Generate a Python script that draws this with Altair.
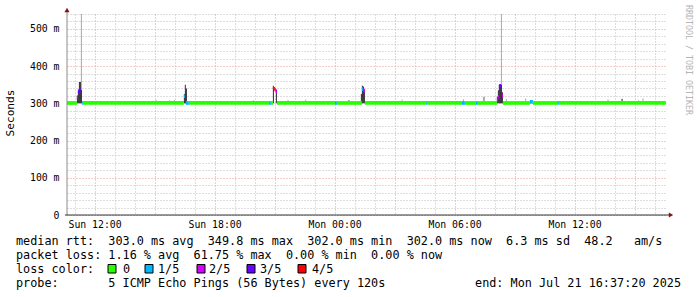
import altair as alt
import pandas as pd

# ---------------- data ----------------
DAY = {"Sun": "2025-07-20", "Mon": "2025-07-21"}
range_start = "Sun 10:37:20"
range_end = "Mon 16:37:20"

# median band runs (loss = pings lost out of 5)
run_start = ["Sun 10:37:20", "Sun 11:22", "Sun 11:25", "Sun 16:34", "Sun 16:43", "Sun 20:43",
             "Sun 20:49", "Sun 21:07", "Mon 00:01", "Mon 00:07", "Mon 01:31", "Mon 04:34",
             "Mon 04:37", "Mon 06:22", "Mon 06:31", "Mon 07:03", "Mon 07:10", "Mon 08:25",
             "Mon 09:46", "Mon 09:55", "Mon 11:08", "Mon 11:13"]
run_end = ["Sun 11:07", "Sun 11:25", "Sun 16:28", "Sun 16:43", "Sun 20:43", "Sun 20:49",
           "Sun 20:55", "Mon 00:01", "Mon 00:07", "Mon 01:22", "Mon 04:34", "Mon 04:37",
           "Mon 06:22", "Mon 06:31", "Mon 07:03", "Mon 07:10", "Mon 08:07", "Mon 09:46",
           "Mon 09:55", "Mon 11:08", "Mon 11:13", "Mon 16:34"]
run_loss = [0, 1, 0, 1, 0, 1, 0, 0, 1, 0, 0, 1, 0, 1, 0, 1, 0, 0, 1, 0, 1, 0]
run_median = [302, 302, 302, 302, 302, 302, 302, 302, 302, 302, 302, 302, 302, 302, 302,
              302, 302, 302, 305, 302, 302, 302]

# single 3-minute median samples during the latency spikes
samp_time = ["Sun 11:07", "Sun 11:10", "Sun 11:13", "Sun 11:16",
             "Sun 16:28", "Sun 16:31",
             "Sun 20:55", "Sun 20:58", "Sun 21:01", "Sun 21:04",
             "Mon 01:22", "Mon 01:25", "Mon 01:28",
             "Mon 08:07", "Mon 08:10", "Mon 08:13", "Mon 08:16", "Mon 08:19", "Mon 08:22"]
samp_median = [318, 333, 336, 336, 320, 345, 343, 340, 337, 334, 339, 337, 335,
               309, 318, 345, 348, 336, 322]
samp_loss = [2, 3, 3, 3, 1, 2, 4, 4, 2, 2, 1, 2, 2, 2, 2, 3, 3, 3, 2]

# smoke (spread of the individual pings); tone 0 = light, 1 = dark
smoke_time = ["Sun 11:07", "Sun 11:10", "Sun 11:13", "Sun 11:16", "Sun 11:19", "Sun 11:19",
              "Sun 15:03", "Sun 15:44", "Sun 15:58",
              "Sun 16:28", "Sun 16:31", "Sun 16:34",
              "Sun 19:55", "Sun 20:55", "Sun 21:04", "Sun 21:39", "Sun 22:32",
              "Mon 00:40", "Mon 00:43", "Mon 01:19", "Mon 01:22", "Mon 01:25", "Mon 01:28",
              "Mon 03:21", "Mon 06:25", "Mon 07:25", "Mon 07:28",
              "Mon 08:07", "Mon 08:10", "Mon 08:13", "Mon 08:16", "Mon 08:19", "Mon 08:19",
              "Mon 08:22", "Mon 08:34", "Mon 09:32", "Mon 13:39", "Mon 14:21", "Mon 15:11",
              "Mon 15:24"]
smoke_lo = [300] * len(smoke_time)
smoke_hi = [320, 334, 357, 357, 545, 336,
            309, 308, 309,
            325, 350, 340,
            308, 345, 336, 309, 310,
            309, 309, 325, 347, 345, 336,
            310, 311, 318, 318,
            318, 335, 351, 351, 545, 350,
            330, 311, 313, 310, 312, 308,
            313]
smoke_tone = [1, 1, 1, 1, 0, 1,
              0, 0, 0,
              1, 1, 1,
              0, 1, 1, 0, 0,
              0, 0, 1, 1, 1, 1,
              0, 0, 0, 0,
              1, 1, 1, 1, 0, 1,
              1, 0, 0, 0, 1, 0,
              0]

loss_labels = ["0", "1/5", "2/5", "3/5", "4/5"]
loss_colors = ["#26ff00", "#00b8ff", "#d400ff", "#6a00ff", "#ff0000"]

y_ticks = list(range(0, 541, 20))

legend_rtt = "median rtt:  303.0 ms avg  349.8 ms max  302.0 ms min  302.0 ms now  6.3 ms sd  48.2   am/s"
legend_loss = "packet loss: 1.16 % avg  61.75 % max  0.00 % min  0.00 % now"
legend_color_title = "loss color:"
legend_probe = "probe:       5 ICMP Echo Pings (56 Bytes) every 120s"
legend_end = "end: Mon Jul 21 16:37:20 2025"
credit = "RRDTOOL / TOBI OETIKER"
y_title = "Seconds"


# ---------------- helpers ----------------
def iso(s):
    d, hm = s.split()
    if hm.count(":") == 1:
        hm += ":00"
    return f"{DAY[d]}T{hm}Z"


def step_after(s):
    return (pd.Timestamp(iso(s)) + pd.Timedelta(minutes=3)).strftime("%Y-%m-%dT%H:%M:%SZ")


def ms(s):
    return int(pd.Timestamp(iso(s)).timestamp() * 1000)


def nb(s):
    return s.replace(" ", "\u00a0")


band_df = pd.DataFrame({
    "t": [iso(s) for s in run_start] + [iso(s) for s in samp_time],
    "t2": [iso(s) for s in run_end] + [step_after(s) for s in samp_time],
    "loss": run_loss + samp_loss,
    "median": run_median + samp_median,
})
smoke_df = pd.DataFrame({
    "t": [iso(s) for s in smoke_time],
    "t2": [step_after(s) for s in smoke_time],
    "lo": smoke_lo,
    "hi": smoke_hi,
    "tone": smoke_tone,
})

hours = pd.date_range("2025-07-20T11:00Z", "2025-07-21T16:00Z", freq="h")
hour_ms = [int(h.timestamp() * 1000) for h in hours]

MONO = "DejaVu Sans Mono"
GRID = "#bdbdbd"
MGRID = "#e49a9a"
ARROW = "#8a1010"
W, H = 600, 201
LEFT, TOP = 67, 14

x_scale = alt.Scale(type="utc", domain=[ms(range_start), ms(range_end)])
y_scale = alt.Scale(domain=[0, 540], nice=False, zero=True)

x_axis = alt.Axis(
    values=hour_ms,
    labelExpr="utchours(datum.value) % 6 == 0 ? utcFormat(datum.value, '%a %H:%M') : ''",
    grid=True,
    gridColor=alt.condition("utchours(datum.value) % 3 == 0", alt.value(MGRID), alt.value(GRID)),
    gridDash=[1, 2],
    gridWidth=1,
    ticks=False,
    domain=False,
    labelFont=MONO,
    labelFontSize=9.8,
    labelColor="#000000",
    labelPadding=4,
    labelOverlap=False,
    labelFlush=False,
    title=None,
)
y_axis = alt.Axis(
    values=y_ticks,
    labelExpr="datum.value % 100 == 0 ? (datum.value == 0 ? '0\u00a0\u00a0' : datum.value + ' m') : ''",
    grid=True,
    gridColor=alt.condition("datum.value % 100 == 0", alt.value(MGRID), alt.value(GRID)),
    gridDash=[1, 2],
    gridWidth=1,
    ticks=False,
    domain=False,
    labelFont=MONO,
    labelFontSize=9.8,
    labelColor="#000000",
    labelPadding=8,
    labelOverlap=False,
    title=None,
)


def xy(lo="lo", hi="hi"):
    return dict(
        x=alt.X("t:T", scale=x_scale, axis=x_axis),
        x2="t2:T",
        y=alt.Y(f"{lo}:Q", scale=y_scale, axis=y_axis),
        y2=f"{hi}:Q",
    )


smoke_light = alt.Chart(smoke_df).transform_filter("datum.tone == 0").mark_rect(
    clip=True, color="#a8a8a8").encode(**xy())
smoke_dark = alt.Chart(smoke_df).transform_filter("datum.tone == 1").mark_rect(
    clip=True, color="#2a2a2a").encode(**xy())
band = alt.Chart(band_df).transform_calculate(
    lo="datum.median - 6", hi="datum.median + 4").mark_rect(clip=True).encode(
    color=alt.Color("loss:O", scale=alt.Scale(domain=[0, 1, 2, 3, 4], range=loss_colors), legend=None),
    **xy(),
)

y_line = alt.Chart().mark_rule(color="#8c8c8c", strokeWidth=1).encode(
    x=alt.value(0), y=alt.value(-4), y2=alt.value(H))
x_line = alt.Chart().mark_rule(color="#333333", strokeWidth=1).encode(
    x=alt.value(-2), x2=alt.value(W + 3), y=alt.value(H))
arrow_up = alt.Chart().mark_point(shape="triangle-up", filled=True, size=26, color=ARROW, opacity=1).encode(
    x=alt.value(0), y=alt.value(-4))
arrow_right = alt.Chart().mark_point(shape="triangle-right", filled=True, size=26, color=ARROW, opacity=1).encode(
    x=alt.value(W + 4), y=alt.value(H))

texts = []


def txt(s, x, y, size=11.8, align="left", angle=0, color="#000000", baseline="alphabetic"):
    kw = dict(font=MONO, fontSize=size, align=align, baseline=baseline, color=color)
    if angle:
        kw["angle"] = angle
    return alt.Chart().mark_text(**kw).encode(
        x=alt.value(x - LEFT), y=alt.value(y - TOP), text=alt.value(nb(s)))


texts.append(txt(legend_rtt, 16, 245))
texts.append(txt(legend_loss, 16, 259))
texts.append(txt(legend_color_title, 16, 273))
texts.append(txt(legend_probe, 16, 287))
texts.append(txt(legend_end, 681, 287, align="right"))
texts.append(txt(y_title, 11, 113, size=11.1, align="center", angle=270, baseline="middle"))
texts.append(txt(credit, 688, 60, size=8.3, align="center", angle=90, color="#b4b4b4", baseline="middle"))

square_x = [108, 145, 197, 247, 298]
label_x = [123, 158, 209, 260, 312]
for i, (lab, col) in enumerate(zip(loss_labels, loss_colors)):
    texts.append(alt.Chart().mark_rect(color=col, stroke="#000000", strokeWidth=1).encode(
        x=alt.value(square_x[i] - LEFT), x2=alt.value(square_x[i] + 8 - LEFT),
        y=alt.value(264.5 - TOP), y2=alt.value(273 - TOP)))
    texts.append(txt(lab, label_x[i], 273))

chart = alt.layer(smoke_light, smoke_dark, band, y_line, x_line, arrow_up, arrow_right, *texts).properties(
    width=W,
    height=H,
    padding={"left": LEFT, "top": TOP, "right": 697 - LEFT - W, "bottom": 297 - TOP - H},
    autosize=alt.AutoSizeParams(type="none"),
    background="#ffffff",
).configure_view(stroke="transparent")

chart.save("out.html", embed_options={"renderer": "svg", "actions": False})
